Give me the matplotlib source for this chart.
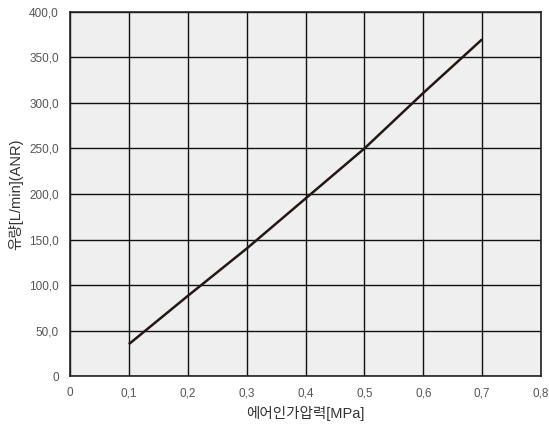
import matplotlib
matplotlib.use("Agg")
import matplotlib.pyplot as plt

plt.rcParams['font.family'] = ['Liberation Sans', 'Noto Sans CJK KR', 'DejaVu Sans']

""" data """
pressure = [0.1, 0.2, 0.3, 0.4, 0.5, 0.6, 0.7]
flow = [35, 88, 140, 195, 250, 311, 370]
x_ticks = [0, 0.1, 0.2, 0.3, 0.4, 0.5, 0.6, 0.7, 0.8]
x_labels = ["0", "0,1", "0,2", "0,3", "0,4", "0,5", "0,6", "0,7", "0,8"]
y_ticks = [0, 50, 100, 150, 200, 250, 300, 350, 400]
y_labels = ["0", "50,0", "100,0", "150,0", "200,0", "250,0", "300,0", "350,0", "400,0"]

fig = plt.figure(figsize=(5.49, 4.34), dpi=100)
ax = fig.add_axes([0.1275, 0.1336, 0.858, 0.8388])
ax.set_facecolor("#efefef")

ax.plot(pressure, flow, color="#231815", linewidth=1.8, solid_capstyle="butt")

ax.set_xlim(0, 0.8)
ax.set_ylim(0, 400)
ax.set_xticks(x_ticks, x_labels)
ax.set_yticks(y_ticks, y_labels)
ax.grid(True, color="#111111", linewidth=1.0)
ax.set_axisbelow(True)
ax.tick_params(length=0, pad=8, labelsize=8.5, labelcolor="#555555")
for s in ax.spines.values():
    s.set_color("#222222")
    s.set_linewidth(1.2)

ax.set_xlabel("에어인가압력[MPa]", fontsize=10.5, color="#333333", labelpad=5)
ax.set_ylabel("유량[L/min](ANR)", fontsize=10.5, color="#333333", labelpad=4)

fig.savefig("out.png", dpi=100)
